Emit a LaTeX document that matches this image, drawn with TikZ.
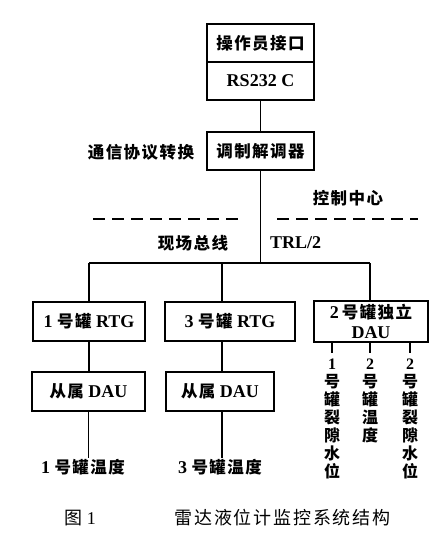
\documentclass[tikz,border=0pt]{standalone}
\usepackage{fontspec}
\setmainfont{Liberation Serif}
\newfontfamily\zhsp[LetterSpace=9]{Noto Sans CJK SC}
\newfontfamily\zhcp[LetterSpace=10]{Noto Sans CJK SC}
\newfontfamily\zhns{Noto Sans CJK SC}
\newcommand\zh[1]{{\zhsp\fontsize{16.5}{18}\selectfont #1}}
\newcommand\zhcap[1]{{\zhcp\fontsize{18}{20}\selectfont #1}}
\tikzset{
  box/.style={draw, line width=1.6pt, inner sep=0pt, align=center,
    font=\fontsize{18}{19}\selectfont\bfseries},
  lbl/.style={inner sep=1pt, font=\fontsize{18}{19}\selectfont\bfseries},
  vlbl/.style={inner sep=0pt, anchor=north, align=center,
    font=\fontsize{16}{18}\selectfont\bfseries},
  captxt/.style={inner sep=1pt, font=\fontsize{18}{20}\selectfont},
  wire/.style={line width=1.9pt},
  sep/.style={line width=1.8pt, dash pattern=on 12pt off 7pt},
}
\begin{document}
\begin{tikzpicture}[x=1pt,y=-1pt]
\fill[white] (0,0) rectangle (430,538);
\useasboundingbox (0,0) rectangle (430,538);
% top
\node[box, minimum width=107pt, minimum height=38pt] (op) at (260.5,43) {\zh{操作员接口}};
\node[box, minimum width=107pt, minimum height=38pt] (rs) at (260.5,81) {RS232 C};
\node[box, minimum width=107pt, minimum height=38pt] (modem) at (260.5,151) {\zh{调制解调器}};
\node[lbl] (comm) at (141,152) {\zh{通信协议转换}};
\node[lbl] (ctrl) at (348,198) {\zh{控制中心}};
\node[lbl] (field) at (193,243) {\zh{现场总线}};
\node[lbl, anchor=west, inner sep=0pt] (trl) at (270,243) {TRL/2};
% separators
\coordinate (dl1) at (93,219);
\coordinate (dl2) at (238,219);
\coordinate (dr1) at (277,219);
\coordinate (dr2) at (418,219);
\draw[sep] (dl1) -- (dl2);
\draw[sep] (dr1) -- (dr2);
% bus
\coordinate (bl) at (89,263);
\coordinate (bm) at (222,263);
\coordinate (bc) at (260.5,263);
\coordinate (br) at (370,263);
% row boxes
\node[box, minimum width=112pt, minimum height=39pt] (b1) at (89,321.5) {1 \zh{号罐} RTG};
\node[box, minimum width=130pt, minimum height=39pt] (b3) at (230,321.5) {3 \zh{号罐} RTG};
\node[box, minimum width=114pt, minimum height=41pt] (b2) at (371,321.5) {2\,\zh{号罐独立}\\[1pt]DAU};
\node[box, minimum width=113pt, minimum height=39pt] (d1) at (88.5,391.5) {\zh{从属} DAU};
\node[box, minimum width=108pt, minimum height=39pt] (d3) at (220,391.5) {\zh{从属} DAU};
\node[lbl] (t1) at (83,467) {1 \zh{号罐温度}};
\node[lbl] (t3) at (220,467) {3 \zh{号罐温度}};
% vertical labels
\node[vlbl] (v1) at (332,359) {1\\\zhns 号\\\zhns 罐\\\zhns 裂\\\zhns 隙\\\zhns 水\\\zhns 位};
\node[vlbl] (v2) at (370,359) {2\\\zhns 号\\\zhns 罐\\\zhns 温\\\zhns 度};
\node[vlbl] (v3) at (410,359) {2\\\zhns 号\\\zhns 罐\\\zhns 裂\\\zhns 隙\\\zhns 水\\\zhns 位};
% caption
\node[captxt] (fig) at (80,518) {\zhcap{图} 1};
\node[captxt] (title) at (282.5,518) {\zhcap{雷达液位计监控系统结构}};
% wires
\draw[wire] (rs.south) -- (modem.north);
\draw[wire] (modem.south) -- (bc);
\draw[wire] (bl) -- (br);
\draw[wire] (bl) -- (bl |- b1.north);
\draw[wire] (bm) -- (bm |- b3.north);
\draw[wire] (br) -- (br |- b2.north);
\draw[wire] (bl |- b1.south) -- (bl |- d1.north);
\draw[wire] (bm |- b3.south) -- (bm |- d3.north);
\draw[wire] (d1.south) -- (d1.south |- t1.north);
\draw[wire] (bm |- d3.south) -- (bm |- t3.north);
\draw[wire] (v1.north |- b2.south) -- ([yshift=6pt]v1.north);
\draw[wire] (v2.north |- b2.south) -- ([yshift=6pt]v2.north);
\draw[wire] (v3.north |- b2.south) -- ([yshift=6pt]v3.north);
\end{tikzpicture}
\end{document}
